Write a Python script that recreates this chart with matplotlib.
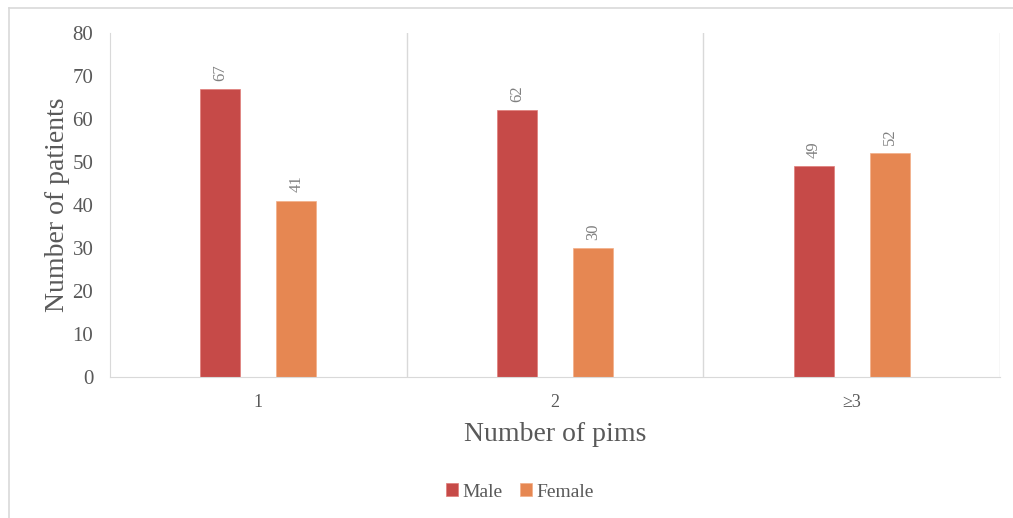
import numpy as np
import matplotlib.pyplot as plt
from matplotlib.lines import Line2D
from matplotlib.font_manager import FontProperties

categories = ['1', '2', '\u22653']
male = [67, 62, 49]
female = [41, 30, 52]

plt.rcParams['font.family'] = ['Liberation Serif', 'DejaVu Serif']

fig = plt.figure(figsize=(10.13, 5.18), dpi=100)
ax = fig.add_axes([110/1013, 1 - 377/518, (1000 - 110)/1013, (377 - 33)/518])

x = np.arange(len(categories))
w = 0.135
off = 0.128
b1 = ax.bar(x - off, male, w, color='#C64A48', edgecolor='#E07C78', linewidth=0.5, label='Male')
b2 = ax.bar(x + off, female, w, color='#E68752', edgecolor='#F2AE88', linewidth=0.5, label='Female')

for bars in (b1, b2):
    for r in bars:
        ax.annotate(str(int(r.get_height())), (r.get_x() + r.get_width()/2, r.get_height()),
                    xytext=(0, 6), textcoords='offset points', rotation=90,
                    ha='center', va='bottom', fontsize=12, color='#808080')

ax.set_xlim(-0.5, 2.5)
ax.set_ylim(0, 80)
ax.set_yticks(range(0, 81, 10))
ax.set_xticks(x)
ax.set_xticklabels(categories)
# category separators
for s in [0.5, 1.5, 2.5]:
    ax.axvline(s, color='#D9D9D9', lw=1, zorder=0)

for sp in ['top', 'right']:
    ax.spines[sp].set_visible(False)
ax.spines['left'].set_color('#D9D9D9')
ax.spines['bottom'].set_color('#D9D9D9')
ax.tick_params(axis='both', length=0, colors='#595959')
ax.tick_params(axis='x', pad=12, labelsize=13)
ax.tick_params(axis='y', pad=12, labelsize=15)

ax.set_ylabel('Number of patients', fontsize=20, color='#595959', labelpad=2)
ax.set_xlabel('Number of pims', fontsize=20, color='#595959', labelpad=8)

ax.legend(loc='center', bbox_to_anchor=(520/1013, 1 - 492/518), bbox_transform=fig.transFigure,
          ncol=2, frameon=False, prop=FontProperties(family='Liberation Serif', size=14),
          handlelength=0.6, handleheight=0.6, handletextpad=0.25, columnspacing=0.9,
          labelcolor='#595959')

# outer frame (top and left edges visible)
fig.add_artist(Line2D([9/1013, 1], [1 - 8/518, 1 - 8/518], color='#D9D9D9', lw=1.2, transform=fig.transFigure))
fig.add_artist(Line2D([9/1013, 9/1013], [0, 1 - 8/518], color='#D9D9D9', lw=1.2, transform=fig.transFigure))

plt.savefig('out.png')
